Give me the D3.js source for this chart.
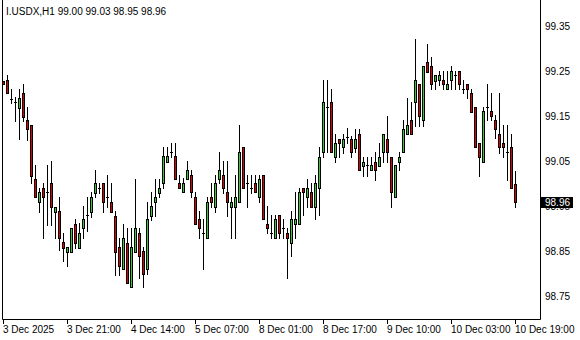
<!DOCTYPE html>
<html><head><meta charset="utf-8">
<script src="https://cdn.jsdelivr.net/npm/d3@7"></script>
<style>
body{margin:0;background:#fff}
svg{display:block}
text{font-family:"Liberation Sans",Arial,sans-serif;font-size:10px;fill:#000}
</style>
</head><body><div id="chart"></div>
<script>
const title = "I.USDX,H1  99.00 99.03 98.95 98.96";
const open = [
99.230,99.232,99.190,99.182,99.170,99.202,99.143,99.131,99.011,98.960,
98.991,98.982,99.002,98.939,98.940,98.871,98.850,98.850,98.911,98.859,
98.902,98.932,98.939,98.981,98.991,99.002,98.971,98.960,98.930,98.860,
98.811,98.870,98.771,98.850,98.891,98.852,98.811,98.930,98.960,98.981,
99.002,99.050,99.071,99.063,99.003,98.982,99.011,99.020,98.971,98.923,
98.891,98.880,98.971,98.950,99.011,99.020,98.982,98.950,98.950,98.960,
99.082,99.002,98.991,99.002,98.971,99.020,98.911,98.891,98.880,98.932,
98.902,98.891,98.870,98.911,98.911,98.991,98.971,98.982,98.950,98.991,
99.071,99.171,99.182,99.061,99.100,99.082,99.105,99.100,99.081,99.111,
99.041,99.043,99.032,99.050,99.041,99.071,99.100,99.061,98.971,99.050,
99.071,99.111,99.143,99.182,99.223,99.143,99.271,99.263,99.230,99.232,
99.232,99.211,99.232,99.243,99.252,99.212,99.223,99.202,99.171,99.091,
99.050,99.171,99.163,99.142,99.111,99.091,99.071,99.082,99.000];
const high = [
99.230,99.243,99.211,99.193,99.211,99.223,99.171,99.131,99.043,98.991,
99.002,99.043,99.052,98.950,98.972,98.892,98.860,98.902,98.922,98.913,
98.952,98.972,98.983,99.032,99.002,99.002,99.020,99.002,98.941,98.880,
98.912,98.902,98.902,99.011,98.902,98.860,98.961,98.983,99.011,99.011,
99.082,99.082,99.092,99.092,99.020,99.013,99.052,99.032,98.983,98.940,
98.923,98.971,99.002,99.020,99.072,99.052,99.052,98.971,99.020,99.132,
99.082,99.020,99.020,99.020,99.020,99.020,98.952,98.932,98.932,98.932,
98.922,98.902,98.940,98.983,98.992,98.992,99.012,99.002,99.020,99.082,
99.232,99.232,99.211,99.112,99.100,99.112,99.125,99.107,99.123,99.123,
99.061,99.061,99.061,99.071,99.091,99.111,99.152,99.061,99.043,99.071,
99.143,99.191,99.183,99.323,99.223,99.263,99.312,99.282,99.243,99.252,
99.252,99.252,99.263,99.252,99.252,99.232,99.223,99.211,99.171,99.091,
99.171,99.223,99.202,99.154,99.202,99.132,99.132,99.111,99.030];
const low = [
99.222,99.202,99.181,99.141,99.100,99.141,99.098,99.002,98.971,98.939,
98.880,98.909,98.909,98.880,98.854,98.830,98.819,98.850,98.859,98.859,
98.880,98.896,98.928,98.971,98.981,98.939,98.950,98.939,98.798,98.798,
98.811,98.780,98.771,98.850,98.791,98.771,98.800,98.920,98.930,98.971,
98.991,99.050,99.061,99.011,98.991,98.982,99.011,98.971,98.911,98.880,
98.811,98.880,98.950,98.939,99.002,98.981,98.929,98.880,98.880,98.960,
98.991,98.950,98.981,98.982,98.960,98.923,98.891,98.880,98.880,98.880,
98.880,98.791,98.840,98.880,98.911,98.932,98.950,98.950,98.922,98.932,
99.061,99.072,99.071,99.050,99.061,99.070,99.091,99.060,99.071,99.032,
99.019,99.019,99.032,99.009,99.041,99.050,99.050,98.950,98.971,99.032,
99.071,99.111,99.111,99.130,99.130,99.130,99.250,99.211,99.211,99.220,
99.211,99.211,99.211,99.211,99.211,99.202,99.191,99.161,99.082,99.019,
99.050,99.142,99.143,99.102,99.070,99.061,99.010,98.991,98.950];
const close = [
99.222,99.202,99.190,99.182,99.191,99.150,99.122,99.019,98.971,98.982,
98.971,98.982,98.950,98.950,98.880,98.859,98.860,98.902,98.870,98.891,
98.922,98.932,98.972,99.002,98.991,98.960,98.971,98.939,98.850,98.819,
98.880,98.780,98.860,98.902,98.841,98.800,98.922,98.952,98.971,98.991,
99.063,99.063,99.071,99.011,98.991,99.002,99.032,98.982,98.911,98.902,
98.891,98.960,98.960,99.002,99.032,98.991,98.960,98.960,98.971,99.071,
98.991,99.002,98.991,98.982,99.011,98.923,98.902,98.891,98.922,98.891,
98.902,98.880,98.922,98.922,98.982,98.982,98.991,98.950,99.002,99.061,
99.182,99.171,99.071,99.091,99.091,99.100,99.105,99.071,99.100,99.032,
99.050,99.043,99.043,99.032,99.061,99.111,99.071,98.982,99.043,99.061,
99.123,99.132,99.111,99.232,99.152,99.263,99.250,99.223,99.243,99.243,
99.223,99.223,99.252,99.243,99.223,99.212,99.211,99.161,99.082,99.061,
99.162,99.171,99.152,99.122,99.082,99.082,99.071,98.991,98.960];
const priceTicks = [98.75, 98.85, 98.95, 99.05, 99.15, 99.25, 99.35];
const lastPrice = 98.96;
const timeLabels = ["3 Dec 2025","3 Dec 21:00","4 Dec 14:00","5 Dec 07:00","8 Dec 01:00","8 Dec 17:00","9 Dec 10:00","10 Dec 03:00","10 Dec 19:00"];
const timeLabelBars = [0,16,32,48,64,80,96,112,128];

const W = 580, H = 340;
const frame = {left: 2, right: 540, top: 0, bottom: 319};
const svg = d3.select("#chart").append("svg").attr("width", W).attr("height", H);

const bars = d3.range(open.length);
const x = d3.scaleLinear().domain([0, open.length - 1]).range([3.5, 515.5]);
const y = d3.scaleLinear().domain([98.75, 99.35]).range([296.7, 26.7]);

const UP = "#33cc33", DOWN = "#dd0000";

const g = svg.append("g");
bars.forEach(i => {
  const cx = x(i);
  const yH = Math.round(y(high[i])), yL = Math.round(y(low[i]));
  const yO = Math.round(y(open[i])), yC = Math.round(y(close[i]));
  const top = Math.min(yO, yC), bot = Math.max(yO, yC);
  // wick
  g.append("rect").attr("x", cx - 0.5).attr("y", yH).attr("width", 1).attr("height", yL - yH + 1).attr("fill", "#000");
  if (bot - top < 2) {
    g.append("rect").attr("x", cx - 1.5).attr("y", top).attr("width", 3).attr("height", bot - top + 1).attr("fill", "#000");
  } else {
    g.append("rect").attr("x", cx - 1.5).attr("y", top).attr("width", 3).attr("height", bot - top + 1).attr("fill", "#000");
    g.append("rect").attr("x", cx - 0.5).attr("y", top + 1).attr("width", 1).attr("height", bot - top - 1)
      .attr("fill", close[i] >= open[i] ? UP : DOWN);
  }
});

// frame
svg.append("path")
  .attr("d", `M${frame.left + 0.5},${frame.top} V${frame.bottom + 0.5} H${frame.right + 0.5} V${frame.top}`)
  .attr("fill", "none").attr("stroke", "#000").attr("stroke-width", 1);

// right price axis
const ya = d3.axisRight(y).tickValues(priceTicks).tickFormat(d3.format(".2f")).tickSize(0).tickPadding(4).offset(0);
const yg = svg.append("g").attr("transform", `translate(${frame.right + 1},0)`).call(ya);
yg.select(".domain").remove();
yg.selectAll("text").style("font-family", '"Liberation Sans",Arial,sans-serif').style("font-size", "10px").attr("fill", "#000");

// last price marker
svg.append("rect").attr("x", 541).attr("y", Math.round(y(lastPrice)) - 5).attr("width", 32).attr("height", 11).attr("fill", "#000");
svg.append("text").attr("x", 545).attr("y", y(lastPrice)).attr("dy", "0.35em").attr("fill", "#fff").style("fill", "#fff")
  .text(d3.format(".2f")(lastPrice));

// bottom time axis
const xa = d3.axisBottom(x).tickValues(timeLabelBars).tickFormat((d, i) => timeLabels[i]).tickSizeInner(4).tickPadding(2).offset(0);
const xg = svg.append("g").attr("transform", `translate(0,${frame.bottom + 1})`).call(xa);
xg.select(".domain").remove();
xg.selectAll(".tick line").attr("stroke", "#000");
xg.selectAll("text").attr("text-anchor", "start").attr("dx", "-0.5").attr("fill", "#000")
  .style("font-family", '"Liberation Sans",Arial,sans-serif').style("font-size", "10px");

// title
svg.append("text").attr("x", 6).attr("y", 14.5).text(title);
</script>
</body></html>
